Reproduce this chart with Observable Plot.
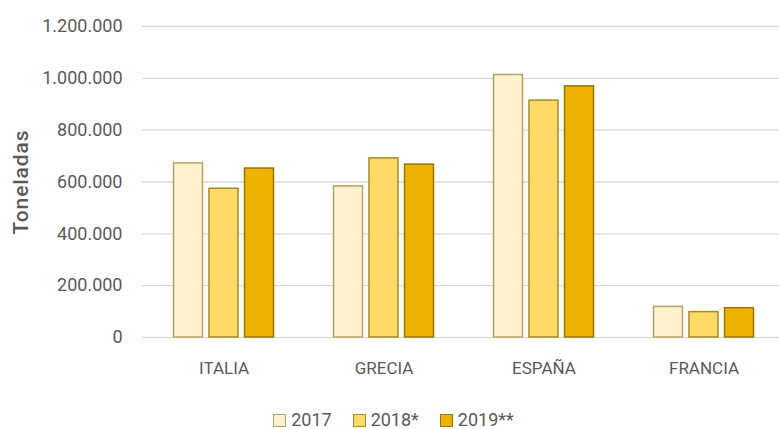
<!DOCTYPE html>
<html><head><meta charset="utf-8">
<script src="https://cdn.jsdelivr.net/npm/d3@7"></script>
<script src="https://cdn.jsdelivr.net/npm/@observablehq/plot@0.6"></script>
<style>
html,body{margin:0;background:#fff;font-family:Roboto,sans-serif;overflow:hidden;}
#chart svg{display:block;}
#legend{display:flex;justify-content:center;gap:21px;height:29px;align-items:flex-end;font-size:18px;line-height:18px;color:#595959;padding-left:8px;}
#legend span.sw{display:inline-block;width:11px;height:11px;border:1.5px solid;margin-right:5px;vertical-align:-1px;}
</style></head>
<body><div id="chart"></div><div id="legend"></div>
<script>
const countries = ["ITALIA", "GRECIA", "ESPAÑA", "FRANCIA"];
const years = ["2017", "2018*", "2019**"];
const v2017 = [672000, 583000, 1013000, 118000];
const v2018 = [574000, 691000, 914000, 98000];
const v2019 = [652000, 667000, 969000, 113000];
const yTicks = [0, 200000, 400000, 600000, 800000, 1000000, 1200000];
const fills = ["#FFF2CC", "#FFD966", "#EEB200"];
const strokes = ["#B9A062", "#A68A22", "#9A7400"];
const offsets = [-35.5, 0, 35.5];

const series = [v2017, v2018, v2019];
const fmt = d3.formatLocale({thousands: ".", decimal: ",", grouping: [3], currency: ["", ""]}).format(",d");

const marks = [
  Plot.gridY(yTicks, {stroke: "#d9d9d9", strokeOpacity: 1, strokeWidth: 1.4}),
  Plot.axisY(yTicks, {tickFormat: fmt, tickSize: 0, tickPadding: 20, fontSize: 18, fill: "#595959",
    label: "Toneladas", labelAnchor: "center", labelArrow: "none", labelOffset: 129}),
  Plot.axisX({tickSize: 0, tickPadding: 24, fontSize: 17, fill: "#595959", label: null})
];
series.forEach((vals, i) => {
  const data = countries.map((c, j) => ({country: c, value: vals[j]}));
  marks.push(Plot.barY(data, {x: "country", y: "value", fill: fills[i], stroke: strokes[i], strokeWidth: 1.5, dx: offsets[i]}));
});

const chart = Plot.plot({
  width: 779, height: 400,
  marginLeft: 142, marginRight: 0, marginTop: 26, marginBottom: 63,
  style: {fontFamily: 'Roboto,sans-serif', color: "#595959"},
  x: {domain: countries, range: [142.75, 784.75], paddingInner: 0.819, paddingOuter: 0.41},
  y: {domain: [0, 1200000]},
  marks
});
document.getElementById("chart").appendChild(chart);
chart.querySelectorAll("text").forEach(t => {
  if (t.textContent === "Toneladas") {
    t.setAttribute("font-weight", "500");
    t.setAttribute("font-size", "21");
    t.setAttribute("letter-spacing", "0.9");
  }
});

const legend = document.getElementById("legend");
years.forEach((y, i) => {
  const item = document.createElement("div");
  item.innerHTML = `<span class="sw" style="background:${fills[i]};border-color:${strokes[i]}"></span>${y}`;
  legend.appendChild(item);
});
</script></body></html>
